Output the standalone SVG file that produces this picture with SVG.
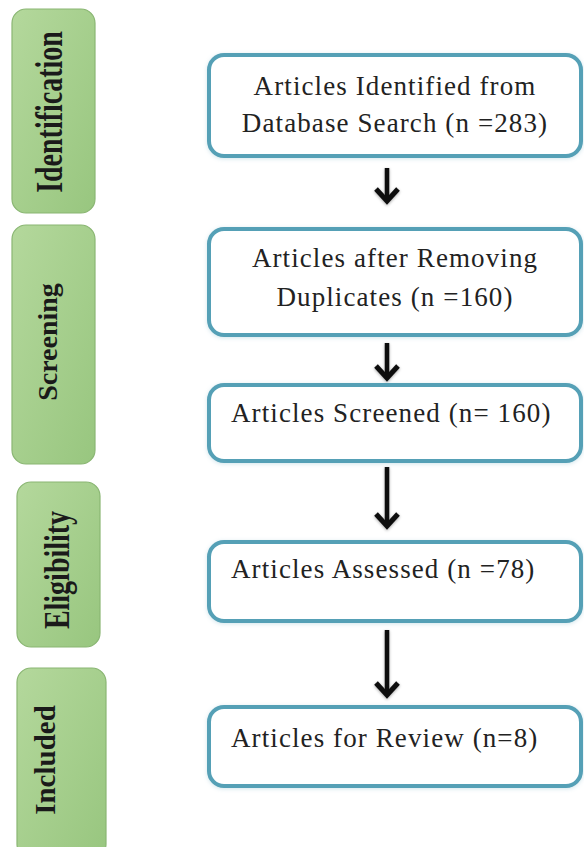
<svg xmlns="http://www.w3.org/2000/svg" width="584" height="847" viewBox="0 0 584 847">
<style>
.pill{stroke:#8ab673;stroke-width:1.2;fill:url(#g)}
.pt{font-family:"Liberation Serif","Times New Roman",serif;font-weight:bold;font-size:28px;fill:#1a1a1a;text-anchor:middle}
.box{fill:#fff;stroke:#55a0b6;stroke-width:4;filter:url(#glow)}
.bt{font-family:"Liberation Serif","Times New Roman",serif;font-size:27px;fill:#222;letter-spacing:1.1px}
.c{text-anchor:middle}
.arr{stroke:#111;stroke-width:4.5;fill:none;marker-end:url(#head)}
</style>
<defs>
<linearGradient id="g" x1="0" y1="0" x2="1" y2="1">
<stop offset="0" stop-color="#b4d89c"/>
<stop offset="1" stop-color="#98c67f"/>
</linearGradient>
<filter id="glow" x="-10%" y="-20%" width="120%" height="140%">
<feDropShadow dx="0" dy="1" stdDeviation="2" flood-color="#9cc8d4" flood-opacity="0.45"/>
</filter>
<filter id="sh" filterUnits="userSpaceOnUse" x="0" y="0" width="584" height="847">
<feDropShadow dx="0" dy="1" stdDeviation="1.5" flood-color="#000" flood-opacity="0.35"/>
</filter>
<marker id="head" markerUnits="userSpaceOnUse" orient="auto" refX="0" refY="0" markerWidth="30" markerHeight="30" overflow="visible">
<path d="M-12,-11 L0,0 L-12,11" fill="none" stroke="#111" stroke-width="5" stroke-linejoin="miter"/>
</marker>
</defs>
<rect width="584" height="847" fill="#fff"/>

<g id="stage-identification">
<rect class="pill" x="12" y="9" width="83" height="204" rx="14"/>
<text class="pt" transform="translate(62,112) rotate(-90) scale(1,1.35)">Identification</text>
</g>
<g id="stage-screening">
<rect class="pill" x="12" y="225" width="83" height="239" rx="14"/>
<text class="pt" transform="translate(57,342) rotate(-90)">Screening</text>
</g>
<g id="stage-eligibility">
<rect class="pill" x="17" y="482" width="83" height="165" rx="14"/>
<text class="pt" transform="translate(69,570) rotate(-90) scale(1,1.25)">Eligibility</text>
</g>
<g id="stage-included">
<rect class="pill" x="17" y="668" width="89" height="190" rx="14"/>
<text class="pt" transform="translate(55,760) rotate(-90)" style="font-size:29px">Included</text>
</g>

<g id="connectors" filter="url(#sh)">
<path class="arr" d="M387,168 V201"/>
<path class="arr" d="M387,343 V378"/>
<path class="arr" d="M387,467 V526"/>
<path class="arr" d="M387,630 V695"/>
</g>

<g id="box-identified">
<rect class="box" x="209" y="55" width="372" height="101" rx="15"/>
<text class="bt c" x="395" y="95">Articles Identified from</text>
<text class="bt c" x="395" y="132">Database Search (n =283)</text>
</g>
<g id="box-duplicates">
<rect class="box" x="209" y="229" width="372" height="106" rx="15"/>
<text class="bt c" x="395" y="267">Articles after Removing</text>
<text class="bt c" x="395" y="306">Duplicates (n =160)</text>
</g>
<g id="box-screened">
<rect class="box" x="209" y="385" width="372" height="76" rx="15"/>
<text class="bt" x="231" y="422">Articles Screened (n= 160)</text>
</g>
<g id="box-assessed">
<rect class="box" x="209" y="542" width="372" height="79" rx="15"/>
<text class="bt" x="231" y="578">Articles Assessed (n =78)</text>
</g>
<g id="box-review">
<rect class="box" x="209" y="707" width="372" height="79" rx="15"/>
<text class="bt" x="231" y="747">Articles for Review (n=8)</text>
</g>
</svg>
